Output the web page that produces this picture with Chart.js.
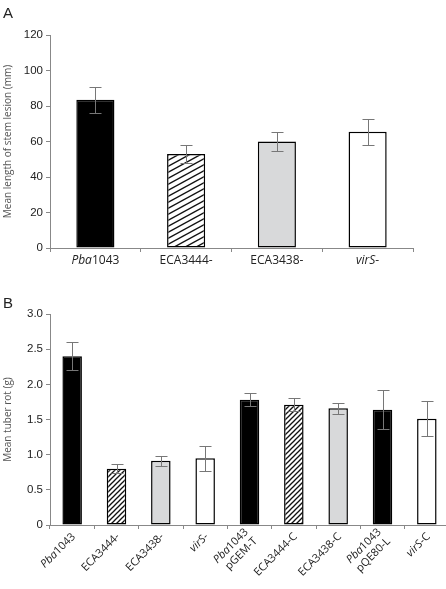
<!DOCTYPE html>
<html>
<head>
<meta charset="utf-8">
<script src="https://cdn.jsdelivr.net/npm/chart.js@4.4.0/dist/chart.umd.min.js"></script>
<style>
  html, body { margin: 0; padding: 0; background: #fff; overflow: hidden; }
  #wrap { position: relative; width: 446px; height: 589px; overflow: hidden; }
  canvas { position: absolute; left: 0; }
  .panel { position: absolute; left: 3px; font: 15px "Liberation Sans", Arial, sans-serif; color: #222; }
</style>
</head>
<body>
<div id="wrap">
  <canvas id="chartA" width="446" height="280" style="top:0"></canvas>
  <canvas id="chartB" width="452" height="309" style="top:280px"></canvas>
  <div class="panel" style="top:4px">A</div>
  <div class="panel" style="top:294px">B</div>
</div>
<script>
// panel A - stem lesion
const lesionLabels = ['Pba1043', 'ECA3444-', 'ECA3438-', 'virS-'];
const lesionMean = [83.5, 53, 60, 65.5];
const lesionErr = [7.3, 5, 5.6, 7.3];
const lesionTicks = ['0', '20', '40', '60', '80', '100', '120'];

// panel B - tuber rot
const rotLabels = [['Pba1043'], ['ECA3444-'], ['ECA3438-'], ['virS-'], ['Pba1043', 'pGEM-T'],
                   ['ECA3444-C'], ['ECA3438-C'], ['Pba1043', 'pQE80-L'], ['virS-C']];
const rotMean = [2.40, 0.80, 0.915, 0.95, 1.78, 1.71, 1.66, 1.64, 1.51];
const rotErr = [0.2, 0.065, 0.07, 0.18, 0.09, 0.09, 0.08, 0.28, 0.25];
const rotTicks = ['0', '0.5', '1.0', '1.5', '2.0', '2.5', '3.0'];

// parts of names set in italics
const italicParts = ['Pba', 'virS'];

function hatch(w, h, lw) {
    const c = document.createElement('canvas');
    c.width = w; c.height = h;
    const g = c.getContext('2d');
    g.fillStyle = '#fff';
    g.fillRect(0, 0, w, h);
    g.strokeStyle = '#111';
    g.lineWidth = lw;
    for (const k of [-1, 0, 1]) {
        g.beginPath();
        g.moveTo(-1, h + k * h + h / w);
        g.lineTo(w + 1, k * h - h / w);
        g.stroke();
    }
    return g.createPattern(c, 'repeat');
}

function fillsFor(kinds, pattern) {
    const map = { black: '#000', hatch: pattern, grey: '#d8d9da', white: '#fff' };
    return kinds.map(k => map[k]);
}

const errorBars = {
    id: 'errorBars',
    afterDatasetsDraw(chart) {
        const ctx = chart.ctx;
        const y = chart.scales.y;
        ctx.save();
        ctx.strokeStyle = '#777';
        ctx.lineWidth = 1;
        chart.data.datasets.forEach((ds, di) => {
            chart.getDatasetMeta(di).data.forEach((bar, i) => {
                const x = Math.round(bar.x) + 0.5;
                const hi = Math.round(y.getPixelForValue(ds.data[i] + ds.errors[i])) + 0.5;
                const lo = Math.round(y.getPixelForValue(ds.data[i] - ds.errors[i])) + 0.5;
                ctx.beginPath();
                ctx.moveTo(x, hi); ctx.lineTo(x, lo);
                ctx.moveTo(x - 6, hi); ctx.lineTo(x + 6, hi);
                ctx.moveTo(x - 6, lo); ctx.lineTo(x + 6, lo);
                ctx.stroke();
            });
        });
        ctx.restore();
    }
};

function segments(t) {
    const p = italicParts.find(s => t.startsWith(s));
    return p ? [[p, true], [t.slice(p.length), false]] : [[t, false]];
}

function drawMixed(ctx, t, x, y, align, size) {
    const font = it => (it ? 'italic ' : '') + size + 'px "Open Sans", sans-serif';
    const segs = segments(t);
    let total = 0;
    segs.forEach(([s, it]) => { ctx.font = font(it); total += ctx.measureText(s).width; });
    let sx = align === 'center' ? x - total / 2 : x - total;
    ctx.textAlign = 'left';
    segs.forEach(([s, it]) => {
        ctx.font = font(it);
        ctx.fillText(s, sx, y);
        sx += ctx.measureText(s).width;
    });
}

function labelPlugin(rotate) {
    return {
        id: 'mixedLabels',
        afterDraw(chart) {
            const ctx = chart.ctx;
            const xs = chart.scales.x;
            const base = chart.chartArea.bottom;
            ctx.save();
            ctx.fillStyle = '#222';
            ctx.textBaseline = 'middle';
            chart.data.labels.forEach((lab, i) => {
                const lines = Array.isArray(lab) ? lab : [lab];
                const cx = xs.getPixelForTick(i);
                ctx.save();
                if (rotate) {
                    ctx.translate(cx + 1.5, base + 10);
                    ctx.rotate(-Math.PI / 4);
                } else {
                    ctx.translate(cx, base + 13);
                }
                lines.forEach((t, j) => {
                    const dy = (j - (lines.length - 1) / 2) * 13;
                    drawMixed(ctx, t, 0, dy, rotate ? 'right' : 'center', rotate ? 11 : 12);
                });
                ctx.restore();
            });
            ctx.restore();
        }
    };
}

function makeChart(id, o) {
    return new Chart(document.getElementById(id).getContext('2d'), {
        type: 'bar',
        data: {
            labels: o.labels,
            datasets: [{
                data: o.values,
                errors: o.errors,
                backgroundColor: o.fills,
                borderColor: '#000',
                borderWidth: 1.5,
                borderSkipped: false,
                barPercentage: o.barPct,
                categoryPercentage: 1
            }]
        },
        options: {
            responsive: false,
            animation: false,
            events: [],
            layout: { padding: o.padding },
            plugins: { legend: { display: false }, tooltip: { enabled: false } },
            scales: {
                x: {
                    grid: { offset: true, drawOnChartArea: false, tickLength: 4, color: '#888' },
                    border: { color: '#888' },
                    ticks: { display: false },
                    afterFit: s => { s.height = o.xHeight; }
                },
                y: {
                    min: 0,
                    max: o.max,
                    ticks: {
                        stepSize: o.step,
                        padding: 3,
                        color: '#222',
                        font: { family: '"Liberation Sans", Arial, sans-serif', size: 11.5 },
                        callback: (v, i) => o.ticks[i]
                    },
                    grid: { drawOnChartArea: false, tickLength: 4, color: '#888' },
                    border: { color: '#888' },
                    title: {
                        display: true,
                        text: o.title,
                        color: '#555',
                        padding: { top: 2, bottom: 0 },
                        font: { family: '"Open Sans", sans-serif', size: 10 }
                    },
                    afterFit: s => { s.width = 50; }
                }
            }
        },
        plugins: [errorBars, labelPlugin(o.rotate)]
    });
}

makeChart('chartA', {
    labels: lesionLabels,
    values: lesionMean,
    errors: lesionErr,
    ticks: lesionTicks,
    fills: fillsFor(['black', 'hatch', 'grey', 'white'], hatch(11, 6, 1.4)),
    max: 120, step: 20,
    title: 'Mean length of stem lesion (mm)',
    padding: { left: 0, right: 33, top: 35, bottom: 0 },
    xHeight: 32,
    barPct: 0.42,
    rotate: false
});

makeChart('chartB', {
    labels: rotLabels,
    values: rotMean,
    errors: rotErr,
    ticks: rotTicks,
    fills: fillsFor(['black', 'hatch', 'grey', 'white', 'black', 'hatch', 'grey', 'black', 'white'], hatch(5, 5, 1.3)),
    max: 3, step: 0.5,
    title: 'Mean tuber rot (g)',
    padding: { left: 0, right: 3, top: 34, bottom: 0 },
    xHeight: 64,
    barPct: 0.44,
    rotate: true
});
</script>
</body>
</html>
